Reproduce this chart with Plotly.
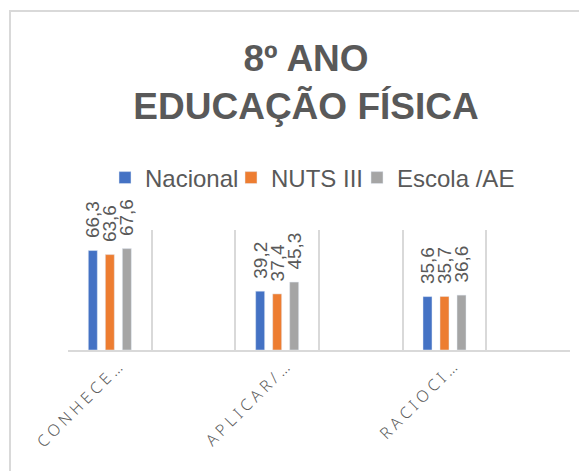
import plotly.graph_objects as go

categories = ["CONHECE…", "\u200b", "APLICAR/…", "\u200b\u200b", "RACIOCI…", "\u200b\u200b\u200b"]
series_names = ["Nacional", "NUTS III", "Escola /AE"]
nacional = [66.3, None, 39.2, None, 35.6, None]
nuts3 = [63.6, None, 37.4, None, 35.7, None]
escola = [67.6, None, 45.3, None, 36.6, None]
colors = ["#4472C4", "#ED7D31", "#A5A5A5"]
title_lines = ["8º ANO", "EDUCAÇÃO FÍSICA"]
legend_widths = [81, 81, 116]

def spaced(s):
    return "\u2005".join(list(s)) if s.strip("\u200b") else s

tick_text = [spaced(c) for c in categories]

W, H = 579, 463
L, R, T, B = 60, 17, 222, 121
PW, PH = W - L - R, H - T - B

fig = go.Figure()
for name, vals, col, lw in zip(series_names, [nacional, nuts3, escola], colors, legend_widths):
    fig.add_trace(go.Bar(
        x=categories, y=vals, name=name, marker_color=col, legendwidth=lw,
        text=[("\u2002" + f"{v:.1f}".replace(".", ",")) if v is not None else "" for v in vals],
        textposition="outside", textangle=-90, constraintext="none",
        textfont=dict(family="Liberation Sans, Arial", size=19, color="#595959"),
        cliponaxis=False,
    ))

fig.update_layout(
    width=W, height=H,
    margin=dict(l=L, r=R, t=T, b=B, autoexpand=False),
    paper_bgcolor="white", plot_bgcolor="white",
    barmode="group", bargap=0.39, bargroupgap=0.47,
    title=dict(text="<br>".join("<b>%s</b>" % t for t in title_lines), x=298 / W, xanchor="center",
               y=1 - 63 / H, yanchor="top", yref="container",
               font=dict(family="Liberation Sans, Arial", size=37, color="#595959")),
    legend=dict(orientation="h", x=(97 - L) / PW, xanchor="left", y=(342 - 170) / PH, yanchor="middle",
                font=dict(family="Liberation Sans, Arial", size=24, color="#595959"),
                bgcolor="rgba(0,0,0,0)"),
    showlegend=True,
    font=dict(family="Liberation Sans, Arial", color="#595959"),
)
fig.update_xaxes(
    type="category", tickson="boundaries", showgrid=True, gridcolor="#D9D9D9", gridwidth=1.5,
    showline=True, linecolor="#D9D9D9", linewidth=1.5, ticks="", automargin=False,
    tickvals=categories, ticktext=tick_text, tickangle=-45,
    tickfont=dict(family="Noto Sans", size=16, color="#595959", weight=300),
    ticklabelstandoff=0, ticklabelshift=8,
)
fig.update_yaxes(range=[0, 80], showgrid=False, showticklabels=False, zeroline=False,
                 showline=False, automargin=False)

fig.add_shape(type="rect", xref="paper", yref="paper",
              x0=(2 - L) / PW, x1=(620 - L) / PW, y0=(342 - 500) / PH, y1=(342 - 3) / PH,
              line=dict(color="#D9D9D9", width=2), fillcolor="rgba(0,0,0,0)", layer="below")

fig.write_html("out.html")
